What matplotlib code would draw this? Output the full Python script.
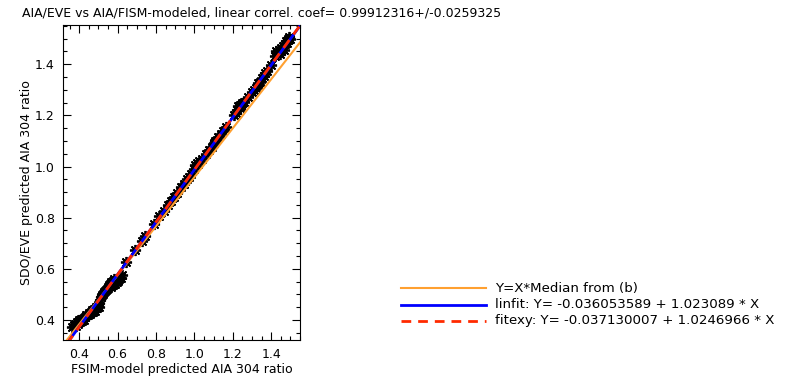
import matplotlib
matplotlib.use('Agg')
import matplotlib.pyplot as plt
from matplotlib.lines import Line2D
import numpy as np

# FSIM-model ratio (x) vs SDO/EVE ratio (y), read per cluster
fism_ratio = [
    0.365, 0.372, 0.378, 0.383, 0.388, 0.392, 0.397, 0.401, 0.405, 0.410, 0.415, 0.420, 0.425,
    0.432, 0.438, 0.445, 0.452, 0.458, 0.463, 0.468, 0.472, 0.478, 0.482, 0.487, 0.492, 0.497, 0.503, 0.506,
    0.510, 0.515, 0.520, 0.525, 0.530, 0.535, 0.540, 0.545, 0.550, 0.556, 0.562, 0.568, 0.575, 0.582,
    0.565, 0.575, 0.585, 0.595, 0.603, 0.610, 0.617, 0.622,
    0.645, 0.690, 0.725, 0.745, 0.790,
    0.818, 0.840, 0.862, 0.878, 0.893, 0.910,
    0.930, 0.945, 0.960, 0.970, 0.985, 1.000, 1.005, 1.012, 1.018, 1.025, 1.040,
    1.060, 1.075, 1.090, 1.100, 1.110, 1.125, 1.140, 1.150, 1.165,
    1.205, 1.215, 1.222, 1.228, 1.235, 1.240, 1.245, 1.250, 1.258,
    1.280, 1.300, 1.310, 1.320, 1.330, 1.335, 1.340, 1.350, 1.360, 1.370, 1.380, 1.400,
    1.420, 1.425, 1.430, 1.440, 1.445, 1.450, 1.460, 1.465, 1.470, 1.475, 1.480, 1.485, 1.490, 1.495, 1.500,
]
eve_ratio = [
    0.372, 0.380, 0.385, 0.378, 0.392, 0.386, 0.395, 0.400, 0.392, 0.403, 0.398, 0.405, 0.401,
    0.410, 0.418, 0.420, 0.428, 0.425, 0.432, 0.438, 0.430, 0.444, 0.437, 0.450, 0.446, 0.458, 0.452, 0.466,
    0.478, 0.490, 0.496, 0.500, 0.508, 0.512, 0.518, 0.522, 0.530, 0.536, 0.540, 0.548, 0.552, 0.560,
    0.530, 0.535, 0.540, 0.548, 0.552, 0.560, 0.565, 0.575,
    0.628, 0.672, 0.708, 0.728, 0.775,
    0.805, 0.826, 0.850, 0.866, 0.880, 0.896,
    0.918, 0.932, 0.950, 0.958, 0.972, 0.990, 1.005, 1.015, 1.010, 1.020, 1.030,
    1.048, 1.064, 1.076, 1.090, 1.098, 1.114, 1.128, 1.140, 1.153,
    1.200, 1.210, 1.222, 1.235, 1.228, 1.240, 1.236, 1.248, 1.252,
    1.270, 1.290, 1.300, 1.308, 1.325, 1.318, 1.332, 1.345, 1.352, 1.365, 1.372, 1.395,
    1.430, 1.450, 1.445, 1.455, 1.438, 1.462, 1.470, 1.455, 1.478, 1.490, 1.482, 1.495, 1.500, 1.505, 1.498,
]

xrange_ = [0.316, 1.542]
yrange_ = [0.322, 1.553]
median_b = 0.958
linfit = [-0.036053589, 1.023089]
fitexy = [-0.037130007, 1.0246966]
title = 'AIA/EVE vs AIA/FISM-modeled, linear correl. coef= 0.99912316+/-0.0259325'

fig = plt.figure(figsize=(8.08, 3.83), dpi=100)
ax = fig.add_axes([63 / 808, 43 / 383, 237 / 808, 315 / 383])

# asterisk symbols, like psym=2
ax.plot(fism_ratio, eve_ratio, ls='none', marker=(8, 2, 0), color='k', ms=8, mew=1.3, zorder=2)

xx = np.array([0.0, 2.0])
ax.plot(xx, xx * median_b, color='#ffa030', lw=1.5, zorder=3)
ax.plot(xx, linfit[0] + linfit[1] * xx, color='#0000ff', lw=2, zorder=4)
ax.plot(xx, fitexy[0] + fitexy[1] * xx, color='#ff2a00', lw=2, ls=(0, (3.5, 2.5)), zorder=5)

ax.set_xlim(xrange_)
ax.set_ylim(yrange_)
ax.set_xticks([0.4, 0.6, 0.8, 1.0, 1.2, 1.4])
ax.set_yticks([0.4, 0.6, 0.8, 1.0, 1.2, 1.4])
ax.set_xticklabels(['0.4', '0.6', '0.8', '1.0', '1.2', '1.4'])
ax.set_yticklabels(['0.4', '0.6', '0.8', '1.0', '1.2', '1.4'])
ax.set_xticks(np.arange(0.35, 1.55, 0.05), minor=True)
ax.set_yticks(np.arange(0.35, 1.55, 0.05), minor=True)
ax.tick_params(which='both', direction='in', top=True, right=True, width=0.8, labelsize=9, pad=6)
ax.tick_params(which='major', length=6)
ax.tick_params(which='minor', length=3)
for s in ax.spines.values():
    s.set_linewidth(0.8)

ax.set_xlabel('FSIM-model predicted AIA 304 ratio', fontsize=9, labelpad=1)
ax.set_ylabel('SDO/EVE predicted AIA 304 ratio', fontsize=9, labelpad=1)
fig.text(22 / 808, 1 - 13 / 383, title, fontsize=9, ha='left', va='center')

# legend drawn by hand at the lower right
rows = [
    ('Y=X*Median from (b)', dict(color='#ffa030', lw=1.5)),
    ('linfit: Y= -0.036053589 + 1.023089 * X', dict(color='#0000ff', lw=2)),
    ('fitexy: Y= -0.037130007 + 1.0246966 * X', dict(color='#ff2a00', lw=2, ls=(0, (3.5, 2.5)))),
]
for i, (txt, style) in enumerate(rows):
    yp = 1 - (288.3 + 16.2 * i) / 383
    fig.add_artist(Line2D([401 / 808, 486 / 808], [yp, yp], transform=fig.transFigure, **style))
    fig.text(495 / 808, yp, txt, fontsize=9.6, ha='left', va='center')

fig.savefig('out.png', dpi=100)
